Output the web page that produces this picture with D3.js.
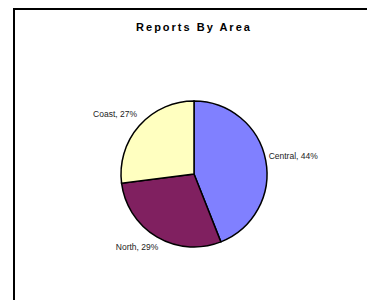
<!DOCTYPE html>
<html>
<head>
<meta charset="utf-8">
<script src="https://cdn.jsdelivr.net/npm/d3@7"></script>
<style>
  body { margin: 0; background: #fff; }
  text { font-family: "Liberation Sans", Arial, sans-serif; }
</style>
</head>
<body>
<svg id="chart"></svg>
<script>
// data
var areas = ['Central', 'North', 'Coast'];
var shares = [44, 29, 27];
var colors = ['#8080ff', '#802060', '#ffffc0'];

var svgWidth = 367, svgHeight = 300;
var cx = 194, cy = 174, radius = 73;

var svg = d3.select('#chart')
  .attr('width', svgWidth)
  .attr('height', svgHeight);

// chart frame
svg.append('rect')
  .attr('x', 14)
  .attr('y', 9)
  .attr('width', svgWidth)
  .attr('height', svgHeight)
  .attr('fill', 'none')
  .attr('stroke', '#000')
  .attr('stroke-width', 2);

svg.append('text')
  .attr('x', 194)
  .attr('y', 31)
  .attr('text-anchor', 'middle')
  .attr('font-size', '11px')
  .attr('font-weight', 'bold')
  .attr('letter-spacing', '2px')
  .text('Reports By Area');

var pie = d3.pie().sort(null).value(function(d) { return d; });
var arcs = pie(shares);

var arc = d3.arc().innerRadius(0).outerRadius(radius);
var labelArc = d3.arc().innerRadius(radius + 3).outerRadius(radius + 3);

var g = svg.append('g')
  .attr('transform', 'translate(' + cx + ',' + cy + ')');

g.selectAll('path')
  .data(arcs)
  .enter()
  .append('path')
  .attr('d', arc)
  .attr('fill', function(d, i) { return colors[i]; })
  .attr('stroke', '#000')
  .attr('stroke-width', 1.5);

g.selectAll('text')
  .data(arcs)
  .enter()
  .append('text')
  .attr('font-size', '8.5px')
  .attr('fill', '#222')
  .attr('text-anchor', function(d) {
    var mid = (d.startAngle + d.endAngle) / 2;
    return Math.sin(mid) > 0 ? 'start' : 'end';
  })
  .attr('x', function(d) {
    var c = labelArc.centroid(d);
    return c[0] + (c[1] > 0 ? 3 : 0);
  })
  .attr('y', function(d) {
    var c = labelArc.centroid(d);
    return c[1] * 1.15 + 1;
  })
  .text(function(d, i) { return areas[i] + ', ' + shares[i] + '%'; });
</script>
</body>
</html>
